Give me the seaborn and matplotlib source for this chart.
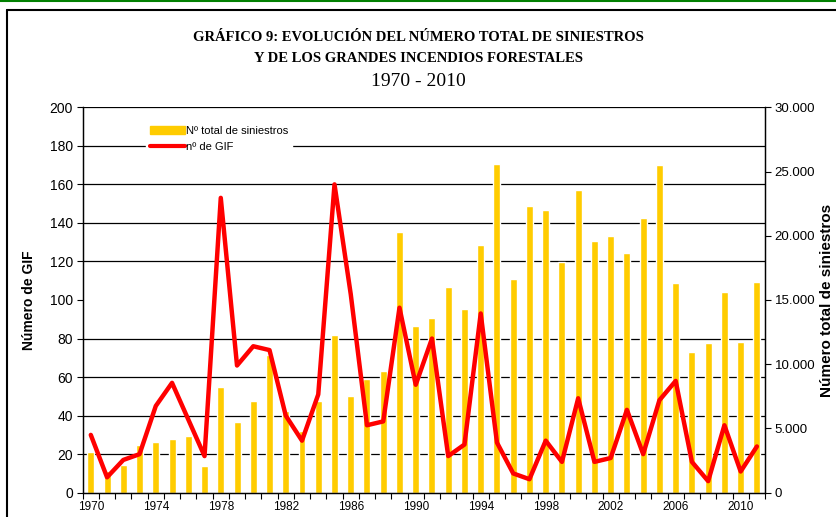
import numpy as np
import matplotlib
matplotlib.use("Agg")
import matplotlib.pyplot as plt
from matplotlib.ticker import FuncFormatter
from matplotlib.patches import Rectangle
from matplotlib.lines import Line2D
import seaborn as sns

years = list(range(1970, 2012))
total_siniestros = [3200, 1710, 2150, 3710, 3970, 4180, 4440, 2100, 8250, 5480,
                    7140, 10720, 6360, 4800, 7140, 12280, 7530, 8850, 9470, 20300,
                    12980, 13600, 15990, 14300, 19280, 25590, 16640, 22320, 22010, 17990,
                    23570, 19600, 19980, 18660, 21390, 25510, 16330, 10950, 11650, 15620,
                    11730, 16400]
num_gif = [30, 8, 17, 20, 45, 57, 38, 19, 153, 66,
           76, 74, 40, 27, 51, 160, 103, 35, 37, 96,
           56, 80, 19, 25, 93, 26, 10, 7, 27, 16,
           49, 16, 18, 43, 20, 48, 58, 16, 6, 35,
           11, 24]
year_labels = [str(y) for y in years[::4]]

sns.set_style("white")
plt.rcParams['font.family'] = ['Liberation Sans', 'DejaVu Sans']
for k in ('text.color', 'axes.labelcolor', 'xtick.color', 'ytick.color'):
    plt.rcParams[k] = 'black'

fig = plt.figure(figsize=(8.36, 5.17), dpi=100)
ax = fig.add_axes([0.0989, 0.047, 0.8162, 0.7455])

# bars on the base axes (right-hand scale), line on the twin (left-hand scale)
sns.barplot(x=years, y=total_siniestros, ax=ax, color='#FFCC00', width=0.43,
            saturation=1, zorder=2)
ax2 = ax.twinx()
sns.lineplot(x=np.arange(len(years)), y=num_gif, ax=ax2, color='#FF0000',
             linewidth=3.2, zorder=3)

ax.set_ylim(0, 30000)
ax.set_xlim(-0.5, len(years) - 0.5)
ax2.set_xlim(-0.5, len(years) - 0.5)
ax2.set_ylim(0, 200)

# gridlines follow the left scale (every 20 -> every 3000)
ax.set_yticks(np.arange(3000, 30001, 3000), minor=True)
ax.grid(which='minor', axis='y', color='black', linewidth=0.9, zorder=0)
ax.grid(which='major', visible=False)
ax.set_axisbelow(True)

ax.yaxis.tick_right()
ax.yaxis.set_label_position('right')
ax.set_yticks(np.arange(0, 30001, 5000))
ax.yaxis.set_major_formatter(FuncFormatter(lambda v, p: f"{v:,.0f}".replace(",", ".")))
ax.tick_params(axis='y', which='major', left=False, right=True, labelleft=False,
               labelright=True, direction='out', length=4, width=0.8, labelsize=9.5, pad=3)
ax.tick_params(axis='y', which='minor', length=0)
ax.set_ylabel('Número total de siniestros', fontsize=11, fontweight='bold')
ax.yaxis.set_label_coords(1.081, 0.5)

ax.set_xticks(np.arange(0, len(years), 4))
ax.set_xticklabels(year_labels)
ax.set_xticks(np.arange(-0.5, len(years), 1), minor=True)
ax.tick_params(axis='x', which='major', length=0, labelsize=8.5, pad=6)
ax.tick_params(axis='x', which='minor', bottom=True, direction='out', length=4, width=0.8)
ax.set_xlabel('')

ax2.yaxis.tick_left()
ax2.yaxis.set_label_position('left')
ax2.set_yticks(np.arange(0, 201, 20))
ax2.tick_params(axis='y', left=True, right=False, labelleft=True, labelright=False,
                direction='out', length=4, width=0.8, labelsize=10, pad=3)
ax2.set_ylabel('Número de GIF', fontsize=10, fontweight='bold', labelpad=10)

for a in (ax, ax2):
    a.spines['top'].set_visible(False)
    for s in ('left', 'right', 'bottom'):
        a.spines[s].set_color('black')
        a.spines[s].set_linewidth(0.9)
ax2.axhline(200, color='black', linewidth=0.9)

handles = [Rectangle((0, 0), 1, 1, color='#FFCC00'),
           Line2D([0], [0], color='#FF0000', linewidth=3)]
leg = ax2.legend(handles, ['Nº total de siniestros', 'nº de GIF'],
                 loc='upper left', bbox_to_anchor=(0.085, 0.975), frameon=True,
                 fontsize=8, handlelength=3.2, handletextpad=0.1,
                 labelspacing=0.55, borderpad=0.3)
leg.get_frame().set_edgecolor('white')
leg.get_frame().set_facecolor('white')
leg.get_frame().set_alpha(1)

serif = ['Liberation Serif', 'DejaVu Serif']
fig.text(0.5, 0.927, 'GRÁFICO 9: EVOLUCIÓN DEL NÚMERO TOTAL DE SINIESTROS',
         ha='center', va='center', fontsize=10.5, fontweight='bold', family=serif)
fig.text(0.5, 0.886, 'Y DE LOS GRANDES INCENDIOS FORESTALES',
         ha='center', va='center', fontsize=10.5, fontweight='bold', family=serif)
fig.text(0.5, 0.843, '1970 - 2010', ha='center', va='center', fontsize=14, family=serif)

# outer chart frame
fig.add_artist(Line2D([0, 1], [0.998, 0.998], color='#008000', linewidth=1.5,
                      transform=fig.transFigure))
fig.add_artist(Line2D([0.0085, 1.0], [0.981, 0.981], color='black', linewidth=1.5,
                      transform=fig.transFigure))
fig.add_artist(Line2D([0.0085, 0.0085], [0.0, 0.981], color='black', linewidth=1.5,
                      transform=fig.transFigure))

fig.savefig('out.png', dpi=100)
